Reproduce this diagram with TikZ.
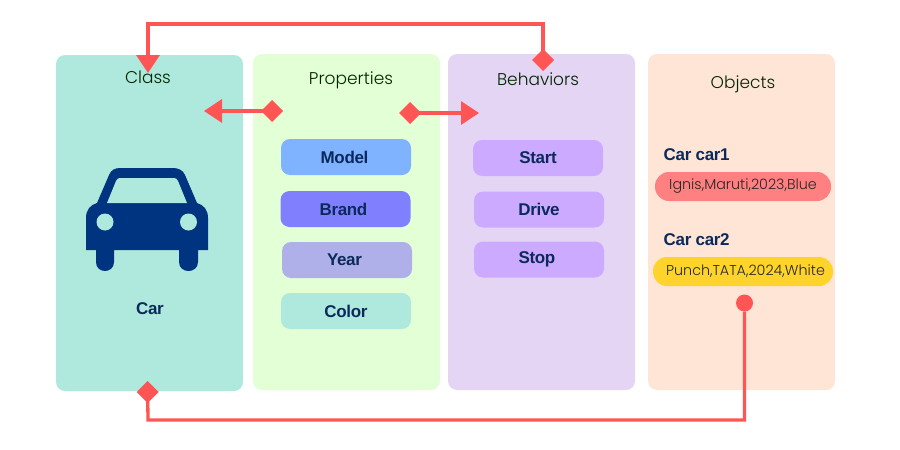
\documentclass[tikz,border=0pt]{standalone}
\usepackage{fontspec}
\setmainfont{Poppins Light}
\newfontfamily\labelfont[LetterSpace=-2]{Liberation Sans}
\usetikzlibrary{arrows.meta,positioning}
\definecolor{tealbg}{HTML}{AFE9DD}
\definecolor{greenbg}{HTML}{E3FFD5}
\definecolor{purplebg}{HTML}{E5D5F5}
\definecolor{peachbg}{HTML}{FFE5D5}
\definecolor{linered}{HTML}{FF5555}
\definecolor{navytext}{HTML}{0B2A5B}
\definecolor{carblue}{HTML}{003380}
\tikzset{
  panel/.style={draw=none, rounded corners=9pt, minimum width=187pt, minimum height=336pt, inner sep=0pt},
  title/.style={font=\fontsize{17}{17}\selectfont, text=black!85!green},
  btn/.style={draw=none, rounded corners=9pt, minimum width=130pt, minimum height=36pt, inner sep=0pt, font=\labelfont\bfseries\fontsize{17}{17}\selectfont, text=navytext},
  pill/.style={draw=none, rounded corners=14pt, minimum height=29pt, inner sep=0pt, font=\fontsize{14.3}{14}\selectfont, text=black!85},
  heading/.style={font=\labelfont\bfseries\fontsize{17}{17}\selectfont, text=navytext, anchor=west, inner sep=0pt},
  redline/.style={draw=linered, line width=3.3pt},
  diatip/.tip={Diamond[length=22pt, width=22pt, color=linered]},
  tritip/.tip={Triangle[length=18pt, width=23pt, color=linered]}
}
\begin{document}
\begin{tikzpicture}[x=1pt, y=-1pt]
\useasboundingbox (0,0) rectangle (900,450);
% panels
\node[panel, fill=tealbg] (class) at (149.5,223) {};
\node[panel, fill=greenbg] (props) at (346.5,222) {};
\node[panel, fill=purplebg] (behav) at (541.5,222) {};
\node[panel, fill=peachbg] (objs) at (741.5,222) {};
%============
\node[title] (classT) at (148,77) {Class};
\node[title] (propsT) at (351,80) {Properties};
\node[title] (behavT) at (538,79) {Behaviors};
\node[title] (objsT) at (743,84) {Objects};
%============
\node[btn, fill={rgb,255:red,128;green,179;blue,255}] (model) at (346,157) {\hspace{-3pt}Model};
\node[btn, fill={rgb,255:red,128;green,128;blue,255}] (brand) at (345.5,209) {\hspace{-4pt}Brand};
\node[btn, fill={rgb,255:red,175;green,175;blue,233}] (year) at (347,260) {\hspace{-5pt}Year};
\node[btn, fill=tealbg] (color) at (346,311) {Color};
\node[btn, fill={rgb,255:red,204;green,170;blue,255}] (start) at (538,158) {Start};
\node[btn, fill={rgb,255:red,204;green,170;blue,255}] (drive) at (539,209.5) {Drive};
\node[btn, fill={rgb,255:red,204;green,170;blue,255}] (stop) at (539,259.5) {\hspace{-4pt}Stop};
%============
\node[heading] (car1) at (663.5,155) {Car car1};
\node[pill, fill={rgb,255:red,255;green,128;blue,128}, minimum width=176pt] (ignis) at (743,186.5) {Ignis,Maruti,2023,Blue};
\node[heading] (car2) at (663.5,240) {Car car2};
\node[pill, fill={rgb,255:red,255;green,212;blue,42}, minimum width=180pt] (punch) at (743,271.5) {\hspace{5pt}Punch,TATA,2024,White};
%============
% car icon
\fill[carblue] (86,250) -- (86,218) .. controls (86,210) and (90,205) .. (97,203) -- (109,175) .. controls (111,170) and (115,168) .. (120,168) -- (173,168) .. controls (178,168) and (183,170) .. (185,175) -- (197,203) .. controls (204,205) and (208,210) .. (208,218) -- (208,250) -- (198,250) -- (198,262) .. controls (198,274) and (179,274) .. (179,262) -- (179,250) -- (114,250) -- (114,262) .. controls (114,274) and (96,274) .. (96,262) -- (96,250) -- cycle;
\fill[tealbg] (107,203) -- (116,181) .. controls (117,179) and (118,178) .. (120,178) -- (174,178) .. controls (176,178) and (177,179) .. (178,181) -- (187,203) -- cycle;
\fill[tealbg] (105,222) circle (8.5);
\fill[tealbg] (188.5,222) circle (8.5);
\node[font=\labelfont\bfseries\fontsize{17}{17}\selectfont, text=navytext] (car) at (150,309) {Car};
%==========
\coordinate (behavTop) at (543,71);
\coordinate (classTop) at (148,73);
\coordinate (propsL) at (283,111);
\coordinate (classR) at (204,111);
\coordinate (propsR) at (399,113);
\coordinate (behavL) at (479,113);
\coordinate (classBot) at (147.5,381);
\coordinate (dot) at (744.5,303);
\node[circle, fill=linered, minimum size=17pt, inner sep=0pt] (dotN) at (dot) {};

\draw[redline, {diatip}-{tritip}] (behavTop) -- (543,24) -- (148,24) -- (classTop);
\draw[redline, {diatip}-{tritip}] (propsL) -- (classR);
\draw[redline, {diatip}-{tritip}] (propsR) -- (behavL);
\draw[redline, -{diatip}] (dotN) -- (744.5,420) -- (148,420) -- (classBot);
\end{tikzpicture}
\end{document}
